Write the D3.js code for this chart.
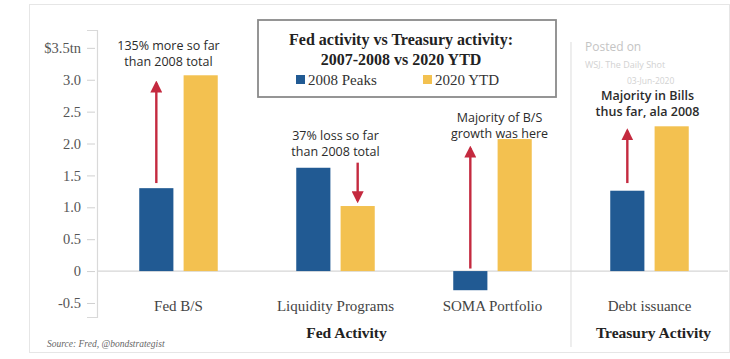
<!DOCTYPE html>
<html>
<head>
<meta charset="utf-8">
<script src="https://cdn.jsdelivr.net/npm/d3@7"></script>
<style>
  body { margin: 0; background: #fff; }
  svg { display: block; }
</style>
</head>
<body>
<svg width="730" height="359"></svg>
<script>
// data
const categories = ["Fed B/S", "Liquidity Programs", "SOMA Portfolio", "Debt issuance"];
const seriesNames = ["2008 Peaks", "2020 YTD"];
const peaks2008 = [1.30, 1.62, -0.30, 1.26];
const ytd2020 = [3.07, 1.02, 2.07, 2.27];
const yTicks = [-0.5, 0, 0.5, 1.0, 1.5, 2.0, 2.5, 3.0, 3.5];
const notes = [
  ["135% more so far", "than 2008 total"],
  ["37% loss so far", "than 2008 total"],
  ["Majority of B/S", "growth was here"],
  ["Majority in Bills", "thus far, ala 2008"]
];
// which bar the arrow sits over, and from/to values
const arrows = [
  {cat: 0, s: 0, from: 1.38, to: 2.95},
  {cat: 1, s: 1, from: 1.7, to: 1.1},
  {cat: 2, s: 0, from: 0.04, to: 1.93},
  {cat: 3, s: 0, from: 1.38, to: 2.2}
];

const colors = {"2008 Peaks": "#215a93", "2020 YTD": "#f3c150"};
const red = "#c42a3f";
const SERIF = '"Liberation Serif", "DejaVu Serif", serif';
const SANS = '"Open Sans", "Noto Sans", sans-serif';

const svg = d3.select("svg");

// faint screenshot frame
svg.append("rect")
  .attr("x", 29.5).attr("y", 4.5)
  .attr("width", 700).attr("height", 348)
  .attr("fill", "none").attr("stroke", "#e6e6e6");

const y = d3.scaleLinear().domain([-0.72, 3.78]).range([317, 30]);
const x0 = d3.scaleBand().domain(categories).range([100, 728])
  .paddingInner(0.5).paddingOuter(0.25);
const x1 = d3.scaleBand().domain(seriesNames).range([0, x0.bandwidth()])
  .paddingInner(0.23).paddingOuter(0);

// separator between Fed and Treasury
const sepX = (x0("SOMA Portfolio") + x0.bandwidth() + x0("Debt issuance")) / 2;
svg.append("line")
  .attr("x1", sepX).attr("x2", sepX)
  .attr("y1", 42).attr("y2", 347)
  .attr("stroke", "#e2e2e2").attr("stroke-width", 1.2);

// zero line
svg.append("line")
  .attr("x1", 97).attr("x2", 728)
  .attr("y1", y(0)).attr("y2", y(0))
  .attr("stroke", "#d6d6d6").attr("stroke-width", 1.2);

// y axis
const yAxis = d3.axisLeft(y)
  .tickValues(yTicks)
  .tickSize(10)
  .tickPadding(6)
  .tickFormat(d => d === 3.5 ? "$3.5tn" : d === 0 ? "0" : d.toFixed(1));

const ag = svg.append("g").attr("transform", "translate(97,0)").call(yAxis)
  .attr("font-family", SERIF).attr("font-size", 14.5);
ag.select(".domain").attr("stroke", "#d9d9d9").attr("stroke-width", 1.2);
ag.selectAll(".tick line").attr("stroke", "#d0d0d0").attr("stroke-dasharray", "0,2,8");
ag.selectAll(".tick text")
  .style("font-family", SERIF)
  .attr("font-size", 14.5)
  .attr("fill", "#555");

// bars
const rows = categories.map((c, i) => ({cat: c, vals: [peaks2008[i], ytd2020[i]]}));
const groups = svg.selectAll("g.grp").data(rows).join("g")
  .attr("class", "grp")
  .attr("transform", d => `translate(${x0(d.cat)},0)`);

groups.selectAll("rect")
  .data(d => d.vals.map((v, j) => ({s: seriesNames[j], v})))
  .join("rect")
  .attr("x", d => x1(d.s))
  .attr("width", x1.bandwidth())
  .attr("y", d => y(Math.max(0, d.v)))
  .attr("height", d => Math.abs(y(d.v) - y(0)))
  .attr("fill", d => colors[d.s]);

// arrows
const defs = svg.append("defs");
defs.append("marker")
  .attr("id", "head")
  .attr("viewBox", "0 0 10 10")
  .attr("refX", 8).attr("refY", 5)
  .attr("markerWidth", 5).attr("markerHeight", 5)
  .attr("orient", "auto")
  .append("path").attr("d", "M0,0 L10,5 L0,10 Z").attr("fill", red);

svg.selectAll("line.arrow").data(arrows).join("line")
  .attr("class", "arrow")
  .attr("x1", d => x0(categories[d.cat]) + x1(seriesNames[d.s]) + x1.bandwidth() / 2)
  .attr("x2", d => x0(categories[d.cat]) + x1(seriesNames[d.s]) + x1.bandwidth() / 2)
  .attr("y1", d => y(d.from))
  .attr("y2", d => y(d.to))
  .attr("stroke", red)
  .attr("stroke-width", 2.4)
  .attr("marker-end", "url(#head)");

// watermark (drawn under the notes)
svg.append("text").style("font-family", SANS)
  .attr("x", 585).attr("y", 51).attr("font-size", 12)
  .attr("fill", "#c4c4c4").text("Posted on");
svg.append("text").style("font-family", SANS)
  .attr("x", 585).attr("y", 68).attr("font-size", 9)
  .attr("fill", "#d2d2d2").text("WSJ. The Daily Shot");
svg.append("text").style("font-family", SANS)
  .attr("x", 627).attr("y", 84).attr("font-size", 8.5)
  .attr("fill", "#d2d2d2").text("03-Jun-2020");

// annotation text
const noteY = [3.47, 2.05, 2.34, 2.68];
const noteDx = [-10, 0, 7, -2];
notes.forEach((lines, i) => {
  const cx = x0(categories[i]) + x0.bandwidth() / 2 + noteDx[i];
  const t = svg.append("text")
    .style("font-family", SANS)
    .attr("text-anchor", "middle")
    .attr("font-size", 12.5)
    .attr("fill", "#2b2b2b")
    .attr("font-weight", i === 3 ? 600 : 400)
    .attr("stroke", i === 3 ? "#fff" : "none")
    .attr("stroke-width", 2.5)
    .attr("paint-order", "stroke")
    .attr("y", y(noteY[i]));
  lines.forEach((l, k) => t.append("tspan").attr("x", cx).attr("dy", k ? 16 : 0).text(l));
});

// category labels
svg.selectAll("text.cat").data(categories).join("text")
  .attr("class", "cat")
  .style("font-family", SERIF)
  .attr("x", d => x0(d) + x0.bandwidth() / 2)
  .attr("y", 311)
  .attr("text-anchor", "middle")
  .attr("font-size", 15)
  .attr("fill", "#444")
  .text(d => d);

svg.append("text").style("font-family", SERIF)
  .attr("x", x0("Liquidity Programs") + x0.bandwidth() / 2 + 11).attr("y", 338)
  .attr("text-anchor", "middle").attr("font-size", 15.5).attr("font-weight", "bold")
  .attr("fill", "#222").text("Fed Activity");
svg.append("text").style("font-family", SERIF)
  .attr("x", x0("Debt issuance") + x0.bandwidth() / 2 + 4).attr("y", 338)
  .attr("text-anchor", "middle").attr("font-size", 15.5).attr("font-weight", "bold")
  .attr("fill", "#222").text("Treasury Activity");

// source
svg.append("text").style("font-family", SERIF)
  .attr("x", 47).attr("y", 347)
  .attr("font-size", 9.5).attr("font-style", "italic")
  .attr("fill", "#666").text("Source: Fred, @bondstrategist");

// title / legend box
const box = svg.append("g");
box.append("rect")
  .attr("x", 258).attr("y", 20).attr("width", 298).attr("height", 77)
  .attr("fill", "#fff").attr("stroke", "#8a8a8a").attr("stroke-width", 1.8);
box.append("text").style("font-family", SERIF)
  .attr("x", 401).attr("y", 45).attr("text-anchor", "middle")
  .attr("font-size", 16).attr("font-weight", "bold").attr("fill", "#222")
  .text("Fed activity vs Treasury activity:");
box.append("text").style("font-family", SERIF)
  .attr("x", 401).attr("y", 65).attr("text-anchor", "middle")
  .attr("font-size", 16).attr("font-weight", "bold").attr("fill", "#222")
  .text("2007-2008 vs 2020 YTD");

const legX = [296, 423];
const leg = box.selectAll("g.leg").data(seriesNames).join("g")
  .attr("class", "leg")
  .attr("transform", (d, i) => `translate(${legX[i]},80)`);
leg.append("rect").attr("x", 0).attr("y", -5).attr("width", 9).attr("height", 9)
  .attr("fill", d => colors[d]);
leg.append("text").style("font-family", SERIF)
  .attr("x", 12).attr("y", 5).attr("font-size", 15).attr("fill", "#333")
  .text(d => d);
</script>
</body>
</html>
